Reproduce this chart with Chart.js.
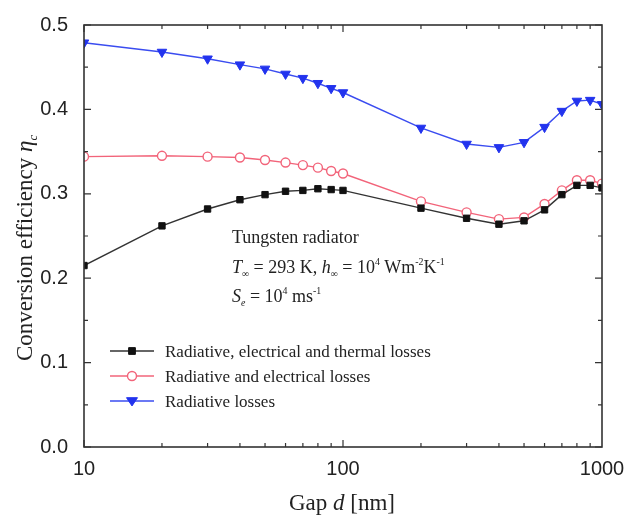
<!DOCTYPE html>
<html lang="en">
<head>
  <meta charset="UTF-8" />
  <title>Conversion efficiency vs gap</title>
  <script src="https://cdn.jsdelivr.net/npm/chart.js"></script>
  <style>
    html, body { margin: 0; padding: 0; background: #fff; }
    #wrap { width: 629px; height: 519px; }
  </style>
</head>
<body>
  <div id="wrap"><canvas id="effChart" width="629" height="519"></canvas></div>

  <script>
    // gap d in nm
    const gaps = [10, 20, 30, 40, 50, 60, 70, 80, 90, 100, 200, 300, 400, 500, 600, 700, 800, 900, 1000];
    const allLosses = [0.215, 0.262, 0.282, 0.293, 0.299, 0.303, 0.304, 0.306, 0.305, 0.304, 0.283, 0.271, 0.264, 0.268, 0.281, 0.299, 0.310, 0.310, 0.307];
    const radElecLosses = [0.344, 0.345, 0.344, 0.343, 0.340, 0.337, 0.334, 0.331, 0.327, 0.324, 0.291, 0.278, 0.270, 0.272, 0.288, 0.304, 0.316, 0.316, 0.312];
    const radLosses = [0.479, 0.468, 0.460, 0.453, 0.448, 0.442, 0.437, 0.431, 0.425, 0.420, 0.378, 0.359, 0.355, 0.361, 0.379, 0.398, 0.410, 0.411, 0.406];
    const seriesNames = [
      "Radiative, electrical and thermal losses",
      "Radiative and electrical losses",
      "Radiative losses"
    ];
    const xLabels = [10, 100, 1000];
    const yMajor = [0, 0.1, 0.2, 0.3, 0.4, 0.5];
    const yMinor = [0.05, 0.15, 0.25, 0.35, 0.45];

    const SERIF = "'Liberation Serif', 'Times New Roman', serif";
    const SANS = "'Liberation Sans', Arial, sans-serif";

    function pts(ys) {
      return gaps.map((g, i) => ({ x: g, y: ys[i] }));
    }

    // draw a run of text pieces (italic / sub / sup) starting at x
    function drawRuns(ctx, runs, x, y, size) {
      ctx.textBaseline = "alphabetic";
      ctx.textAlign = "left";
      for (const r of runs) {
        let s = size, dy = 0;
        if (r.sub) { s = size * 0.55; dy = size * 0.2; }
        if (r.sup) { s = size * 0.55; dy = -size * 0.42; }
        ctx.font = (r.it ? "italic " : "") + s + "px " + SERIF;
        ctx.fillText(r.t, x, y + dy);
        x += ctx.measureText(r.t).width;
      }
      return x;
    }
    function runsWidth(ctx, runs, size) {
      let w = 0;
      for (const r of runs) {
        const s = (r.sub || r.sup) ? size * 0.55 : size;
        ctx.font = (r.it ? "italic " : "") + s + "px " + SERIF;
        w += ctx.measureText(r.t).width;
      }
      return w;
    }

    function drawMarker(ctx, ds, x, y) {
      ctx.save();
      ctx.lineWidth = ds.pointBorderWidth;
      ctx.strokeStyle = ds.pointBorderColor;
      ctx.fillStyle = ds.pointBackgroundColor;
      const r = ds.pointRadius;
      ctx.beginPath();
      if (ds.pointStyle === "rect") {
        ctx.rect(x - r * 0.75, y - r * 0.75, r * 1.5, r * 1.5);
      } else if (ds.pointStyle === "circle") {
        ctx.arc(x, y, r, 0, Math.PI * 2);
      } else {
        ctx.moveTo(x - r, y - r * 0.6);
        ctx.lineTo(x + r, y - r * 0.6);
        ctx.lineTo(x, y + r * 0.9);
        ctx.closePath();
      }
      ctx.fill();
      ctx.stroke();
      ctx.restore();
    }

    const decor = {
      id: "decor",
      afterDraw(chart) {
        const ctx = chart.ctx;
        const a = chart.chartArea;
        const xs = chart.scales.x, ys = chart.scales.y;
        ctx.save();
        ctx.strokeStyle = "#333";
        ctx.lineWidth = 1.6;
        ctx.strokeRect(a.left, a.top, a.right - a.left, a.bottom - a.top);

        // inward ticks on all four sides
        ctx.lineWidth = 1.2;
        ctx.beginPath();
        for (let dec = 10; dec < 1000; dec *= 10) {
          for (let m = 1; m <= 9; m++) {
            const v = dec * m;
            const px = xs.getPixelForValue(v);
            const len = m === 1 ? 7 : 4;
            ctx.moveTo(px, a.bottom); ctx.lineTo(px, a.bottom - len);
            ctx.moveTo(px, a.top); ctx.lineTo(px, a.top + len);
          }
        }
        yMajor.concat(yMinor).forEach(v => {
          const py = ys.getPixelForValue(v);
          const len = yMajor.includes(v) ? 7 : 4;
          ctx.moveTo(a.left, py); ctx.lineTo(a.left + len, py);
          ctx.moveTo(a.right, py); ctx.lineTo(a.right - len, py);
        });
        ctx.stroke();

        ctx.fillStyle = "#222";
        // x title
        const xt = [{ t: "Gap " }, { t: "d", it: true }, { t: " [nm]" }];
        const xw = runsWidth(ctx, xt, 23);
        drawRuns(ctx, xt, 342 - xw / 2, 510, 23);

        // y title
        const yt = [{ t: "Conversion efficiency " }, { t: "η", it: true }, { t: "c", it: true, sub: true }];
        const yw = runsWidth(ctx, yt, 23);
        ctx.save();
        ctx.translate(32, 248);
        ctx.rotate(-Math.PI / 2);
        drawRuns(ctx, yt, -yw / 2, 0, 23);
        ctx.restore();

        // annotation
        drawRuns(ctx, [{ t: "Tungsten radiator" }], 232, 243, 18);
        drawRuns(ctx, [
          { t: "T", it: true }, { t: "∞", sub: true }, { t: " = 293 K, " },
          { t: "h", it: true }, { t: "∞", sub: true }, { t: " = 10" }, { t: "4", sup: true },
          { t: " Wm" }, { t: "-2", sup: true }, { t: "K" }, { t: "-1", sup: true }
        ], 232, 273, 18);
        drawRuns(ctx, [
          { t: "S", it: true }, { t: "e", it: true, sub: true }, { t: " = 10" }, { t: "4", sup: true },
          { t: " ms" }, { t: "-1", sup: true }
        ], 232, 302, 18);

        // legend
        chart.data.datasets.forEach((ds, i) => {
          const cy = 351 + i * 25;
          ctx.strokeStyle = ds.borderColor;
          ctx.lineWidth = ds.borderWidth;
          ctx.beginPath();
          ctx.moveTo(110, cy); ctx.lineTo(154, cy);
          ctx.stroke();
          drawMarker(ctx, ds, 132, cy);
          ctx.fillStyle = "#222";
          drawRuns(ctx, [{ t: ds.label }], 165, cy + 6, 17);
        });
        ctx.restore();
      }
    };

    const ctx = document.getElementById("effChart").getContext("2d");
    new Chart(ctx, {
      type: "line",
      data: {
        datasets: [
          {
            label: seriesNames[0],
            data: pts(allLosses),
            borderColor: "#333333",
            borderWidth: 1.4,
            pointStyle: "rect",
            pointRadius: 4.5,
            pointBackgroundColor: "#111111",
            pointBorderColor: "#111111",
            pointBorderWidth: 1,
            clip: 0
          },
          {
            label: seriesNames[1],
            data: pts(radElecLosses),
            borderColor: "#f2647a",
            borderWidth: 1.4,
            pointStyle: "circle",
            pointRadius: 4.5,
            pointBackgroundColor: "#ffffff",
            pointBorderColor: "#f2647a",
            pointBorderWidth: 1.4,
            clip: 0
          },
          {
            label: seriesNames[2],
            data: pts(radLosses),
            borderColor: "#3a4cf0",
            borderWidth: 1.4,
            pointStyle: "triangle",
            pointRotation: 180,
            pointRadius: 5.5,
            pointBackgroundColor: "#2233ee",
            pointBorderColor: "#2233ee",
            pointBorderWidth: 1,
            clip: 0
          }
        ]
      },
      options: {
        responsive: false,
        animation: false,
        layout: { padding: { left: 0, right: 27, top: 25, bottom: 0 } },
        plugins: { legend: { display: false }, tooltip: { enabled: false } },
        elements: { line: { tension: 0 } },
        scales: {
          x: {
            type: "logarithmic",
            min: 10,
            max: 1000,
            grid: { display: false },
            border: { display: false },
            afterFit: s => { s.height = 72; },
            ticks: {
              autoSkip: false,
              maxRotation: 0,
              padding: 2,
              color: "#222",
              font: { family: SANS, size: 20 },
              callback: v => xLabels.includes(v) ? String(v) : ""
            }
          },
          y: {
            min: 0,
            max: 0.5,
            grid: { display: false },
            border: { display: false },
            afterFit: s => { s.width = 84; },
            ticks: {
              stepSize: 0.1,
              padding: 8,
              color: "#222",
              font: { family: SANS, size: 20 },
              callback: v => v.toFixed(1)
            }
          }
        }
      },
      plugins: [decor]
    });
  </script>
</body>
</html>
